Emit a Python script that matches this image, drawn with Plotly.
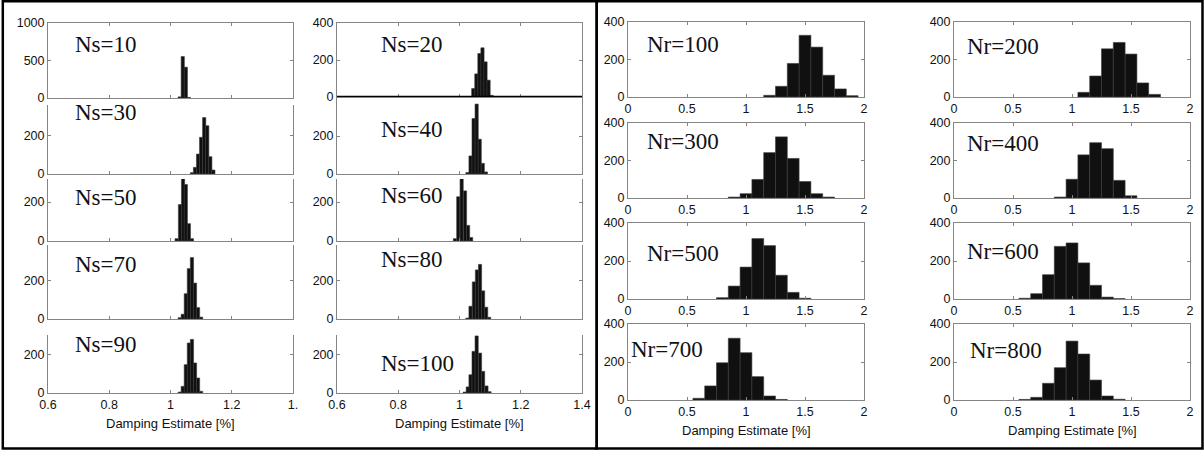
import plotly.graph_objects as go

W, H = 1204, 451

# ---------------- data (bin centres, counts) ----------------
ns10_x = [1.03, 1.04, 1.05, 1.06]
ns10_y = [15, 553, 411, 8]
ns30_x = [1.07, 1.08, 1.09, 1.10, 1.11, 1.12, 1.13, 1.14]
ns30_y = [7, 35, 105, 193, 297, 254, 91, 21]
ns50_x = [1.02, 1.031, 1.041, 1.05, 1.06, 1.07]
ns50_y = [12, 187, 330, 290, 89, 12]
ns70_x = [1.03, 1.04, 1.05, 1.06, 1.07, 1.08, 1.09, 1.10]
ns70_y = [7, 25, 133, 265, 323, 189, 60, 10]
ns90_x = [1.03, 1.04, 1.05, 1.06, 1.07, 1.08, 1.09, 1.10]
ns90_y = [5, 35, 149, 263, 282, 158, 79, 9]

ns20_x = [1.045, 1.055, 1.065, 1.075, 1.085, 1.095, 1.105]
ns20_y = [46, 125, 235, 266, 190, 91, 9]
ns40_x = [1.026, 1.036, 1.046, 1.056, 1.066, 1.076, 1.086]
ns40_y = [8, 95, 292, 368, 183, 56, 11]
ns60_x = [0.985, 0.996, 1.007, 1.018, 1.028, 1.038]
ns60_y = [12, 227, 325, 257, 80, 18]
ns80_x = [1.026, 1.036, 1.047, 1.057, 1.067, 1.077, 1.087, 1.097]
ns80_y = [5, 67, 195, 258, 287, 148, 62, 9]
ns100_x = [1.017, 1.027, 1.036, 1.046, 1.056, 1.067, 1.077, 1.088, 1.098]
ns100_y = [5, 32, 96, 219, 300, 210, 114, 37, 7]

nr100_x = [1.2, 1.3, 1.4, 1.5, 1.6, 1.7, 1.8, 1.9]
nr100_y = [9, 57, 179, 329, 266, 116, 43, 7]
nr300_x = [0.9, 1.0, 1.1, 1.2, 1.3, 1.4, 1.5, 1.6, 1.7]
nr300_y = [5, 23, 99, 242, 326, 211, 88, 23, 5]
nr500_x = [0.8, 0.9, 1.0, 1.1, 1.2, 1.3, 1.4, 1.5]
nr500_y = [7, 68, 168, 318, 281, 125, 35, 4]
nr700_x = [0.6, 0.7, 0.8, 0.9, 1.0, 1.1, 1.2, 1.3]
nr700_y = [9, 74, 196, 325, 249, 123, 21, 3]
nr200_x = [1.1, 1.2, 1.3, 1.4, 1.5, 1.6, 1.7]
nr200_y = [25, 112, 257, 291, 229, 75, 14]
nr400_x = [0.9, 1.0, 1.1, 1.2, 1.3, 1.4, 1.5]
nr400_y = [5, 100, 230, 295, 263, 94, 12]
nr600_x = [0.6, 0.7, 0.8, 0.9, 1.0, 1.1, 1.2, 1.3, 1.4]
nr600_y = [4, 28, 128, 277, 295, 190, 72, 10, 2]
nr800_x = [0.6, 0.7, 0.8, 0.9, 1.0, 1.1, 1.2, 1.3, 1.4]
nr800_y = [3, 14, 88, 170, 310, 242, 105, 21, 4]

ns_xticks = [0.6, 0.8, 1.0, 1.2, 1.4]
ns_xticktext_c1 = ["0.6", "0.8", "1", "1.2", "1."]
ns_xticktext_c2 = ["0.6", "0.8", "1", "1.2", "1.4"]
nr_xticks = [0, 0.5, 1, 1.5, 2]
nr_xticktext = ["0", "0.5", "1", "1.5", "2"]
xlabel = "Damping Estimate [%]"

# ---------------- layout geometry (pixels) ----------------
C1, C2, C3, C4 = (48, 293), (337, 582), (628, 864), (954, 1190)

# label, xs, ys, column, ytop, ybot, ymax, yticks, group, showxlabels, topline, label(x,y)
panels = [
    ("Ns=10", ns10_x, ns10_y, C1, 23, 98, 1000, [0, 500, 1000], "s1", False, True, (73, 45)),
    ("Ns=30", ns30_x, ns30_y, C1, 105, 174, 363, [0, 200], "s1", False, False, (73, 113)),
    ("Ns=50", ns50_x, ns50_y, C1, 179, 241, 318, [0, 200], "s1", False, False, (73, 198)),
    ("Ns=70", ns70_x, ns70_y, C1, 245, 319, 389, [0, 200], "s1", False, False, (73, 264)),
    ("Ns=90", ns90_x, ns90_y, C1, 335, 393, 305, [0, 200], "s1", True, False, (73, 344)),
    ("Ns=20", ns20_x, ns20_y, C2, 23, 97, 400, [0, 200, 400], "s2", False, True, (379, 45)),
    ("Ns=40", ns40_x, ns40_y, C2, 98, 174, 400, [0, 200], "s2", False, False, (379, 129)),
    ("Ns=60", ns60_x, ns60_y, C2, 179, 241, 318, [0, 200], "s2", False, False, (379, 195)),
    ("Ns=80", ns80_x, ns80_y, C2, 245, 319, 389, [0, 200], "s2", False, False, (379, 259)),
    ("Ns=100", ns100_x, ns100_y, C2, 335, 393, 305, [0, 200], "s2", True, False, (379, 363)),
    ("Nr=100", nr100_x, nr100_y, C3, 22, 97, 400, [0, 200, 400], "r", True, True, (645, 45)),
    ("Nr=300", nr300_x, nr300_y, C3, 123, 198, 400, [0, 200, 400], "r", True, True, (645, 141)),
    ("Nr=500", nr500_x, nr500_y, C3, 223, 299, 400, [0, 200, 400], "r", True, True, (645, 253)),
    ("Nr=700", nr700_x, nr700_y, C3, 324, 400, 400, [0, 200, 400], "r", True, True, (629, 349)),
    ("Nr=200", nr200_x, nr200_y, C4, 22, 97, 400, [0, 200, 400], "r", True, True, (965, 46)),
    ("Nr=400", nr400_x, nr400_y, C4, 123, 198, 400, [0, 200, 400], "r", True, True, (965, 143)),
    ("Nr=600", nr600_x, nr600_y, C4, 223, 299, 400, [0, 200, 400], "r", True, True, (965, 252)),
    ("Nr=800", nr800_x, nr800_y, C4, 324, 400, 400, [0, 200, 400], "r", True, True, (968, 350)),
]


def fx(px):
    return px / W


def fy(py):
    return 1 - py / H


AXC = "#858585"
TICKFONT = dict(family="Liberation Sans, Arial, sans-serif", size=12.5, color="#111")
fig = go.Figure()
layout = dict(
    width=W, height=H, autosize=False, margin=dict(l=0, r=0, t=0, b=0, pad=0, autoexpand=False),
    paper_bgcolor="white", plot_bgcolor="white", showlegend=False,
    barmode="overlay",
)
annotations = []
shapes = []

for i, (lab, xs, ys, col, ytop, ybot, ymax, yt, grp, showx, topline, lpos) in enumerate(panels, start=1):
    sfx = "" if i == 1 else str(i)
    if grp == "r":
        xr, xt, xtt, bw = [0, 2], nr_xticks, nr_xticktext, 0.1
    else:
        xr, xt, bw = [0.6, 1.4], ns_xticks, 0.0105
        xtt = ns_xticktext_c1 if grp == "s1" else ns_xticktext_c2
    fig.add_trace(go.Bar(
        x=xs, y=ys, width=bw, xaxis="x" + sfx, yaxis="y" + sfx,
        marker=dict(color="#101010", line=dict(color="#3c3c3c", width=0.6)),
        hoverinfo="x+y",
    ))
    layout["xaxis" + sfx] = dict(
        domain=[fx(col[0]), fx(col[1])], range=xr, tickvals=xt, ticktext=xtt,
        showticklabels=showx, ticks="inside", ticklen=3, tickcolor=AXC,
        showline=True, linecolor=AXC, linewidth=1,
        mirror="ticks" if topline else False, automargin=False,
        showgrid=False, zeroline=False, anchor="y" + sfx, tickfont=TICKFONT,
        fixedrange=True,
    )
    layout["yaxis" + sfx] = dict(
        domain=[fy(ybot), fy(ytop)], range=[0, ymax], tickvals=yt,
        ticks="inside", ticklen=3, tickcolor=AXC, automargin=False,
        showline=True, linecolor=AXC, linewidth=1, mirror="ticks",
        showgrid=False, zeroline=False, anchor="x" + sfx, tickfont=TICKFONT,
        fixedrange=True,
    )
    annotations.append(dict(
        text=lab, x=fx(lpos[0]), y=fy(lpos[1]), xref="paper", yref="paper",
        xanchor="left", yanchor="middle", showarrow=False,
        font=dict(family="Liberation Serif, Times New Roman, serif", size=23, color="#111"),
    ))
    if lab == "Ns=20":
        shapes.append(dict(type="line", xref="x" + sfx, yref="y" + sfx,
                           x0=xr[0], x1=xr[1], y0=0, y1=0,
                           line=dict(color="black", width=2.5)))

# x-axis titles
for col, ypx in [(C1, 423), (C2, 423), (C3, 430), (C4, 430)]:
    annotations.append(dict(
        text=xlabel, x=fx((col[0] + col[1]) / 2), y=fy(ypx), xref="paper", yref="paper",
        xanchor="center", yanchor="middle", showarrow=False,
        font=dict(family="Liberation Sans, Arial, sans-serif", size=13, color="#111"),
    ))

# outer frames
frame = dict(color="black", width=2.5)
shapes += [
    dict(type="rect", xref="paper", yref="paper", x0=fx(2.8), x1=fx(596.7),
         y0=fy(448.5), y1=fy(1.3), line=frame),
    dict(type="rect", xref="paper", yref="paper", x0=fx(596.7), x1=fx(1202.5),
         y0=fy(448.5), y1=fy(1.3), line=frame),
]

layout["annotations"] = annotations
layout["shapes"] = shapes
fig.update_layout(**layout)
fig.write_html("out.html", config={"displayModeBar": False},
               post_script="document.body.style.margin='0';")
